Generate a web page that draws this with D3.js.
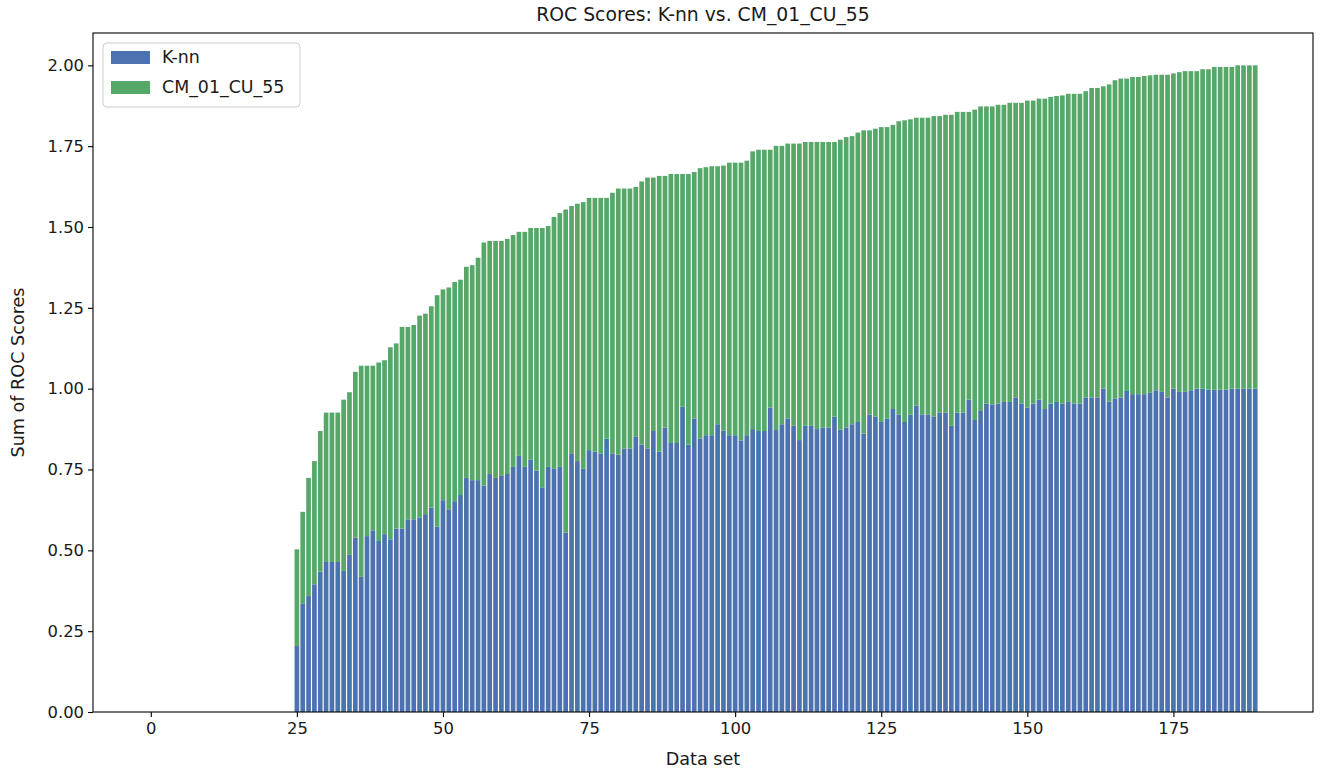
<!DOCTYPE html>
<html>
<head>
<meta charset="utf-8">
<script src="https://cdn.jsdelivr.net/npm/d3@7"></script>
<style>
  body { margin: 0; background: #ffffff; }
  svg { display: block; }
  text { font-family: "DejaVu Sans", sans-serif; fill: #1a1a1a; }
</style>
</head>
<body>
<svg id="chart" width="1330" height="769"></svg>
<script>
// Data sets are numbered 0..189; the ones before 25 have no scores.
const firstScoredSet = 25;
const lastSetIndex = 189;

// ROC score of the K-nn classifier, one per data set (25..189)
const knnScores = [
  0.204, 0.336, 0.359, 0.395, 0.434, 0.464, 0.464, 0.464, 0.436, 0.486,
  0.539, 0.418, 0.544, 0.562, 0.529, 0.550, 0.534, 0.567, 0.567, 0.596,
  0.596, 0.602, 0.612, 0.632, 0.573, 0.655, 0.627, 0.652, 0.671, 0.724,
  0.717, 0.717, 0.700, 0.736, 0.724, 0.730, 0.736, 0.758, 0.792, 0.758,
  0.781, 0.747, 0.695, 0.758, 0.752, 0.758, 0.555, 0.798, 0.776, 0.752,
  0.810, 0.805, 0.800, 0.845, 0.800, 0.796, 0.815, 0.815, 0.851, 0.827,
  0.815, 0.869, 0.805, 0.880, 0.832, 0.832, 0.944, 0.827, 0.908, 0.846,
  0.856, 0.856, 0.890, 0.870, 0.856, 0.856, 0.840, 0.856, 0.875, 0.869,
  0.869, 0.942, 0.872, 0.890, 0.908, 0.885, 0.841, 0.885, 0.885, 0.875,
  0.880, 0.880, 0.913, 0.873, 0.880, 0.890, 0.897, 0.861, 0.920, 0.913,
  0.897, 0.908, 0.937, 0.920, 0.897, 0.920, 0.947, 0.920, 0.920, 0.913,
  0.926, 0.926, 0.885, 0.926, 0.926, 0.966, 0.903, 0.931, 0.954, 0.950,
  0.954, 0.959, 0.959, 0.973, 0.954, 0.942, 0.954, 0.966, 0.937, 0.954,
  0.959, 0.954, 0.959, 0.954, 0.954, 0.973, 0.973, 0.973, 1.000, 0.960,
  0.970, 0.973, 0.993, 0.983, 0.983, 0.983, 0.987, 0.995, 0.990, 0.973,
  1.000, 0.990, 0.990, 0.995, 1.000, 1.000, 0.997, 0.997, 0.997, 0.997,
  1.000, 1.000, 1.000, 1.000, 1.000
];

// ROC score of CM_01_CU_55, stacked on top of K-nn
const cmScores = [
  0.299, 0.283, 0.365, 0.381, 0.435, 0.462, 0.462, 0.462, 0.530, 0.503,
  0.513, 0.653, 0.527, 0.509, 0.552, 0.538, 0.594, 0.573, 0.624, 0.595,
  0.601, 0.624, 0.620, 0.623, 0.716, 0.652, 0.686, 0.678, 0.666, 0.653,
  0.665, 0.688, 0.752, 0.721, 0.733, 0.727, 0.727, 0.717, 0.693, 0.727,
  0.716, 0.750, 0.802, 0.745, 0.779, 0.785, 0.999, 0.767, 0.796, 0.825,
  0.780, 0.785, 0.790, 0.745, 0.806, 0.823, 0.804, 0.804, 0.773, 0.814,
  0.838, 0.784, 0.853, 0.778, 0.832, 0.832, 0.720, 0.837, 0.762, 0.836,
  0.829, 0.832, 0.798, 0.820, 0.843, 0.843, 0.859, 0.849, 0.859, 0.870,
  0.870, 0.797, 0.879, 0.861, 0.850, 0.873, 0.917, 0.878, 0.878, 0.888,
  0.883, 0.883, 0.850, 0.897, 0.898, 0.891, 0.895, 0.938, 0.879, 0.891,
  0.912, 0.901, 0.879, 0.907, 0.933, 0.913, 0.891, 0.918, 0.918, 0.930,
  0.917, 0.921, 0.962, 0.930, 0.930, 0.890, 0.960, 0.942, 0.919, 0.923,
  0.924, 0.919, 0.925, 0.911, 0.930, 0.949, 0.937, 0.931, 0.960, 0.948,
  0.946, 0.953, 0.953, 0.958, 0.958, 0.947, 0.957, 0.957, 0.935, 0.981,
  0.984, 0.986, 0.966, 0.981, 0.981, 0.984, 0.982, 0.976, 0.981, 0.998,
  0.975, 0.989, 0.992, 0.987, 0.982, 0.988, 0.991, 0.998, 0.998, 0.998,
  0.995, 1.000, 1.000, 1.000, 1.000
];

const dataSets = d3.range(firstScoredSet, firstScoredSet + knnScores.length);
const xTickValues = [0, 25, 50, 75, 100, 125, 150, 175];
const yTickValues = [0, 0.25, 0.5, 0.75, 1.0, 1.25, 1.5, 1.75, 2.0];
const seriesNames = ["K-nn", "CM_01_CU_55"];
const seriesColors = ["#4c72b0", "#55a868"];
const titleText = "ROC Scores: K-nn vs. CM_01_CU_55";
const xLabelText = "Data set";
const yLabelText = "Sum of ROC Scores";

const plot = { left: 93, right: 1313, top: 33, bottom: 712 };
const barWidth = 0.8;
const fontTick = 16.4, fontLabel = 17.6, fontTitle = 18.8, fontLegend = 17.4;

const rows = dataSets.map((d, i) => ({ set: d, knn: knnScores[i], cm: cmScores[i] }));
const stacked = d3.stack().keys(["knn", "cm"])(rows);

// x range: every set slot plus 5% padding on both sides
const xMin = 0 - barWidth / 2, xMax = lastSetIndex + barWidth / 2;
const xPad = (xMax - xMin) * 0.05;
const x = d3.scaleLinear().domain([xMin - xPad, xMax + xPad]).range([plot.left, plot.right]);
const yTop = d3.max(rows, r => r.knn + r.cm) * 1.05;
const y = d3.scaleLinear().domain([0, yTop]).range([plot.bottom, plot.top]);

const svg = d3.select("#chart");

// stacked bars
svg.append("g").selectAll("g").data(stacked).join("g")
  .attr("fill", (s, i) => seriesColors[i])
  .selectAll("rect").data(s => s).join("rect")
  .attr("x", d => x(d.data.set - barWidth / 2))
  .attr("width", d => x(d.data.set + barWidth / 2) - x(d.data.set - barWidth / 2))
  .attr("y", d => y(d[1]))
  .attr("height", d => y(d[0]) - y(d[1]));

// axes
const xAxis = d3.axisBottom(x).tickValues(xTickValues).tickFormat(d3.format("d")).tickSize(5).tickPadding(5);
const yAxis = d3.axisLeft(y).tickValues(yTickValues).tickFormat(d3.format(".2f")).tickSize(5).tickPadding(4);

const gx = svg.append("g").attr("transform", `translate(0,${plot.bottom})`).call(xAxis);
const gy = svg.append("g").attr("transform", `translate(${plot.left},0)`).call(yAxis);
[gx, gy].forEach(g => {
  g.select(".domain").remove();
  g.selectAll(".tick line").attr("stroke", "#000").attr("stroke-width", 1.1);
  g.selectAll(".tick text").attr("font-size", fontTick).attr("fill", "#1a1a1a")
    .style("font-family", '"DejaVu Sans", sans-serif');
});

// frame
svg.append("rect")
  .attr("x", plot.left).attr("y", plot.top)
  .attr("width", plot.right - plot.left).attr("height", plot.bottom - plot.top)
  .attr("fill", "none").attr("stroke", "#000").attr("stroke-width", 1.1);

// title and axis labels
svg.append("text").attr("x", (plot.left + plot.right) / 2).attr("y", 21)
  .attr("text-anchor", "middle").attr("font-size", fontTitle).text(titleText);
svg.append("text").attr("x", (plot.left + plot.right) / 2).attr("y", 765)
  .attr("text-anchor", "middle").attr("font-size", fontLabel).text(xLabelText);
svg.append("text").attr("transform", `translate(24,${(plot.top + plot.bottom) / 2}) rotate(-90)`)
  .attr("text-anchor", "middle").attr("font-size", fontLabel).text(yLabelText);

// legend
const legend = svg.append("g").attr("transform", "translate(103,43)");
legend.append("rect").attr("width", 197).attr("height", 64).attr("rx", 4)
  .attr("fill", "#ffffff").attr("fill-opacity", 0.8)
  .attr("stroke", "#cccccc").attr("stroke-width", 1);
seriesNames.forEach((name, i) => {
  const row = legend.append("g").attr("transform", `translate(8,${8 + i * 30})`);
  row.append("rect").attr("width", 39).attr("height", 13).attr("fill", seriesColors[i]);
  row.append("text").attr("x", 51).attr("y", 12).attr("font-size", fontLegend).text(name);
});
</script>
</body>
</html>
